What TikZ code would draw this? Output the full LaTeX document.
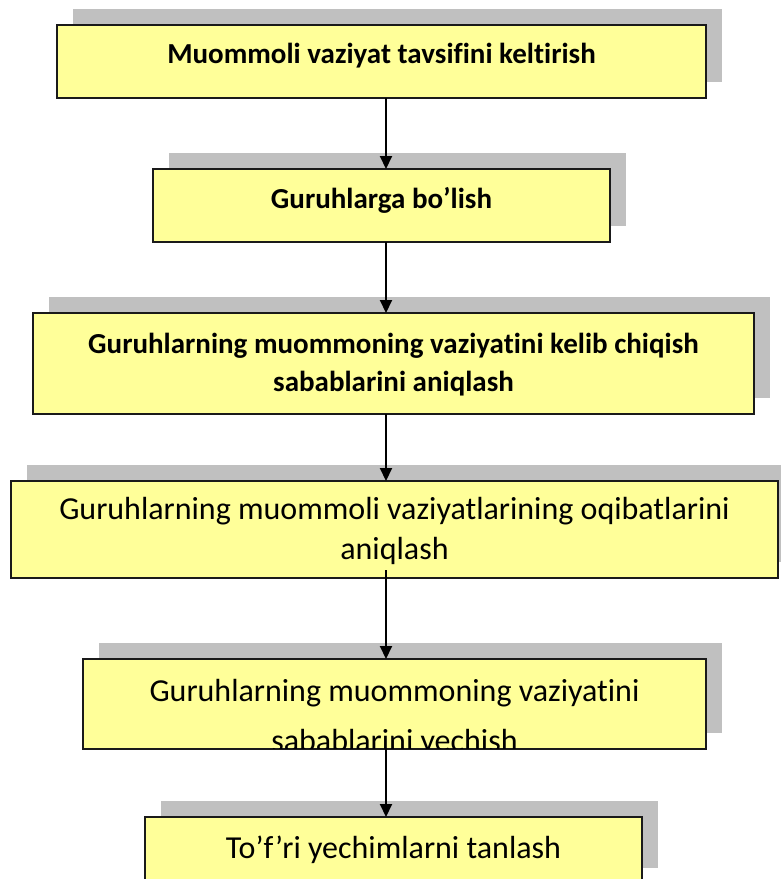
\documentclass[tikz,border=0pt]{standalone}
\usepackage{fontspec}
\setmainfont{Carlito}[Ligatures=NoCommon]
\usetikzlibrary{arrows.meta,shadows}
\definecolor{boxyellow}{HTML}{FFFF99}
\definecolor{shadowgray}{HTML}{C0C0C0}
\definecolor{edgecol}{HTML}{1A1A1A}
\begin{document}
\begin{tikzpicture}[x=1pt,y=-1pt,
  box/.style={draw=edgecol, line width=1.5pt, fill=boxyellow, inner sep=0pt, outer sep=0pt,
    drop shadow={shadow xshift=16pt, shadow yshift=16pt, fill=shadowgray, opacity=1}},
  boldtxt/.style={font=\fontsize{29}{35}\selectfont\bfseries, anchor=base, inner sep=0pt},
  regtxt/.style={font=\fontsize{32}{39}\selectfont, anchor=base, inner sep=0pt},
  flow/.style={line width=2pt, draw=black, -{Triangle[length=13pt,width=12pt]}}]
\useasboundingbox (0,0) rectangle (780,879);
\fill[white] (0,0) rectangle (780,879);

% boxes
\node[box, minimum width=649pt, minimum height=73pt] (b1) at (381.5,61.5) {};
\node[box, minimum width=457pt, minimum height=73pt] (b2) at (381.5,205.5) {};
\node[box, minimum width=721pt, minimum height=101pt] (b3) at (393.5,363.5) {};
\node[box, minimum width=767pt, minimum height=97pt] (b4) at (394.5,529.5) {};
\node[box, minimum width=623pt, minimum height=90pt] (b5) at (394.5,704) {};
\node[box, minimum width=497pt, minimum height=67pt] (b6) at (393.5,850.5) {};

% texts
\node[boldtxt] (t1) at (381.5,63) {Muommoli vaziyat tavsifini keltirish};
\node[boldtxt] (t2) at (381.5,208) {Guruhlarga bo’lish};
\node[boldtxt] (t3a) at (393.5,353) {Guruhlarning muommoning vaziyatini kelib chiqish};
\node[boldtxt] (t3b) at (393.5,391) {sabablarini aniqlash};
\node[regtxt] (t4a) at (394.5,519) {Guruhlarning muommoli vaziyatlarining oqibatlarini};
\node[regtxt] (t4b) at (394.5,559) {aniqlash};
\begin{scope}
  \clip ([shift={(0.75pt,0.75pt)}]b5.south west) rectangle ([shift={(-0.75pt,-0.75pt)}]b5.north east);
  \node[regtxt] (t5a) at (394.5,701) {Guruhlarning muommoning vaziyatini};
  \node[regtxt] (t5b) at (394.5,751) {sabablarini yechish};
\end{scope}
\node[regtxt] (t6) at (393.5,858) {To’f’ri yechimlarni tanlash};

% connectors
\coordinate (ax) at (386,0);
\path (b4.south -| ax) ++(0,-8) coordinate (a4s);
\draw[flow] (b1.south -| ax) -- (b2.north -| ax);
\draw[flow] (b2.south -| ax) -- (b3.north -| ax);
\draw[flow] (b3.south -| ax) -- (b4.north -| ax);
\draw[flow] (a4s) -- (b5.north -| ax);
\draw[flow] (b5.south -| ax) -- (b6.north -| ax);
\end{tikzpicture}
\end{document}
